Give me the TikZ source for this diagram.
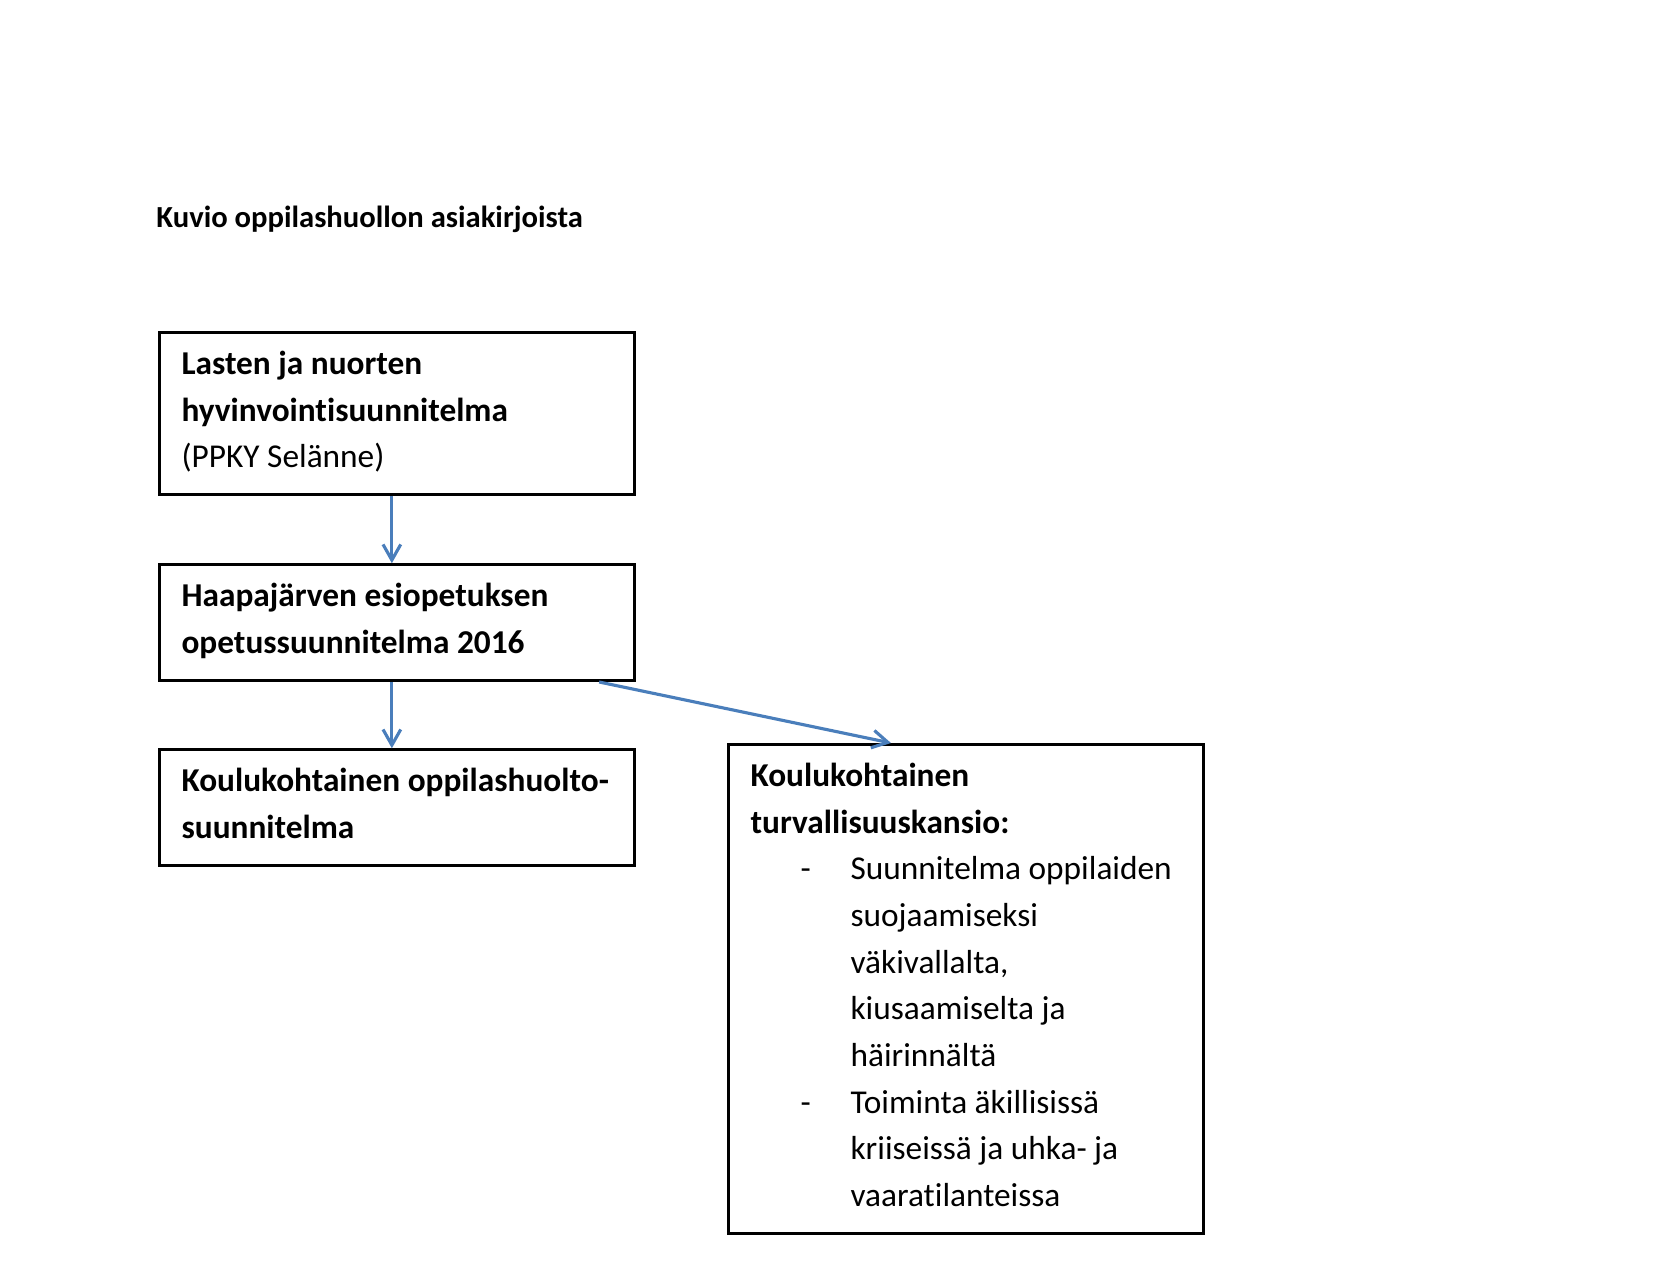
\documentclass[tikz,border=0pt]{standalone}
\usepackage{fontspec}
\setmainfont{Carlito}[Ligatures=NoCommon]
\usetikzlibrary{
  arrows.meta,
  calc,
  positioning
}
\definecolor{arrowblue}{HTML}{4A7EBB}
% list lines of the safety folder box
\newcommand{\dashline}[1]{\makebox[48pt][l]{\hspace{24pt}-}#1}
\newcommand{\contline}[1]{\hspace*{48pt}#1}

\begin{document}
\begin{tikzpicture}[x=0.48pt, y=0.48pt]

\tikzset{
  heading/.style={
    anchor=base west,
    inner sep=0pt,
    font=\fontsize{14.7}{22.4}\selectfont\bfseries
  },
  docbox/.style={
    draw,
    rectangle,
    fill=white,
    align=flush left,
    text width=206.9pt,
    inner xsep=10.56pt,
    inner ysep=0pt,
    text height=20.16pt,
    line width=1.5pt,
    font=\fontsize{16}{22.4}\selectfont
  },
  flow/.style={
    draw=arrowblue,
    line width=1.5pt,
    -{Straight Barb[length=7.5pt, width=8.5pt]}
  }
}

\useasboundingbox (0,0) rectangle (1654,-1282);

% NODES ----------------------------------------------------------

\node[heading] (title) at (156,-227) {Kuvio oppilashuollon asiakirjoista};

% Left column
\node[docbox, anchor=north west, text depth=57.5pt] (hyvinvointi) at (158,-331)
  {\textbf{Lasten ja nuorten} \\ \textbf{hyvinvointisuunnitelma} \\ (PPKY Selänne)};
\node[docbox, below=32.3pt of hyvinvointi, text depth=35.36pt] (esiops)
  {\textbf{Haapajärven esiopetuksen} \\ \textbf{opetussuunnitelma 2016}};
\node[docbox, below=31.8pt of esiops, text depth=35.36pt] (oppilashuolto)
  {\textbf{Koulukohtainen oppilashuolto-} \\ \textbf{suunnitelma}};

% Right box
\node[docbox, anchor=north west, text depth=214.4pt] (turva) at (727,-743)
  {\textbf{Koulukohtainen} \\
   \textbf{turvallisuuskansio:} \\
   \dashline{Suunnitelma oppilaiden} \\
   \contline{suojaamiseksi} \\
   \contline{väkivallalta,} \\
   \contline{kiusaamiselta ja} \\
   \contline{häirinnältä} \\
   \dashline{Toiminta äkillisissä} \\
   \contline{kriiseissä ja uhka- ja} \\
   \contline{vaaratilanteissa}};

% DRAWS ---------------------------------------------------------

\draw[flow] ([xshift=-2.5pt]hyvinvointi.south) -- ([xshift=-2.5pt]esiops.north);
\draw[flow] ([xshift=-2.5pt]esiops.south) -- ([xshift=-2.5pt]oppilashuolto.north);
\draw[flow] ($(esiops.south east)+(-37,0)$) -- ($(turva.north west)+(164,0)$);

\end{tikzpicture}
\end{document}
